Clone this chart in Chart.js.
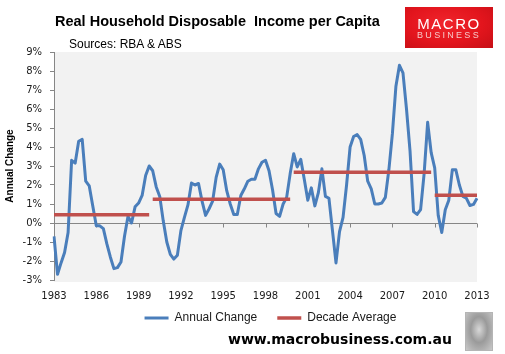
<!DOCTYPE html>
<html>
<head>
<meta charset="utf-8">
<script src="https://cdn.jsdelivr.net/npm/chart.js@4.4.1/dist/chart.umd.min.js"></script>
<style>
  html, body { margin: 0; padding: 0; background: #fff; }
  #wrap { position: relative; width: 505px; height: 354px; overflow: hidden; }
  #chart { position: absolute; left: 0; top: 0; }
  .txt { position: absolute; white-space: nowrap; line-height: 1; color: #000; }
  #title { left: 55px; top: 13px; font: bold 14.5px "Liberation Sans", Arial, sans-serif; }
  #sources { left: 69px; top: 36.5px; font: 12px "Liberation Sans", Arial, sans-serif; }
  #footer { left: 228px; top: 331px; font: bold 14px "DejaVu Sans", Verdana, sans-serif; }
  #logo { position: absolute; left: 405px; top: 7px; width: 88px; height: 41px;
    background: radial-gradient(ellipse at 45% 40%, #f0252c 0%, #e3151d 55%, #c60f16 100%); }
  #logo .macro { position: absolute; left: 0; width: 88px; top: 8.6px; text-align: center;
    font: 15px "Liberation Sans", Arial, sans-serif; letter-spacing: 1.5px; color: #fff; line-height: 1; }
  #logo .biz { position: absolute; left: 0; width: 88px; top: 23.8px; text-align: center;
    font: 9px "Liberation Sans", Arial, sans-serif; letter-spacing: 2.3px; color: #f6c9c9; line-height: 1; }
  #wolf { position: absolute; left: 465px; top: 312px; width: 26px; height: 37px; border: 1px solid #b5b5b5;
    background: radial-gradient(ellipse at 50% 45%, #d8d8d8 0%, #9a9a9a 45%, #c8c8c8 100%); }
</style>
</head>
<body>
<div id="wrap">
  <canvas id="chart" width="505" height="354"></canvas>
  <div class="txt" id="title">Real Household Disposable&nbsp; Income per Capita</div>
  <div class="txt" id="sources">Sources: RBA &amp; ABS</div>
  <div id="logo"><div class="macro">MACRO</div><div class="biz">BUSINESS</div></div>
  <div class="txt" id="footer">www.macrobusiness.com.au</div>
  <div id="wolf"></div>
</div>
<script>
// quarterly categories, 1983 Q1 .. 2013 Q1
const quarterLabels = [];
for (let y = 1983; y <= 2013; y++) {
  for (let q = 1; q <= 4; q++) quarterLabels.push(y + " Q" + q);
}
quarterLabels.length = 121;

const tickYears = [1983, 1986, 1989, 1992, 1995, 1998, 2001, 2004, 2007, 2010, 2013];

// annual change, %
const annualChange = [
  -0.7, -2.7, -2.1, -1.55, -0.5, 3.3, 3.15, 4.3, 4.4, 2.2, 1.95, 0.9,
  -0.15, -0.15, -0.3, -1.1, -1.8, -2.4, -2.35, -2.05, -0.7, 0.35, 0.0, 0.85,
  1.05, 1.45, 2.5, 3.0, 2.75, 1.9, 1.4, 0.1, -1.0, -1.65, -1.9, -1.7,
  -0.4, 0.3, 0.95, 2.1, 2.0, 2.08, 1.15, 0.4, 0.75, 1.15, 2.4, 3.1,
  2.8, 1.7, 1.0, 0.45, 0.45, 1.45, 1.8, 2.2, 2.3, 2.3, 2.85, 3.2,
  3.3, 2.75, 1.75, 0.5, 0.35, 1.0, 1.35, 2.6, 3.65, 2.95, 3.35, 2.3,
  1.2, 1.85, 0.9, 1.6, 2.85, 1.4, 1.3, -0.4, -2.1, -0.45, 0.3, 2.0,
  4.0, 4.55, 4.65, 4.4, 3.55, 2.2, 1.8, 1.0, 1.0, 1.05, 1.35, 2.8,
  4.7, 7.2, 8.3, 7.9, 6.0, 3.8, 0.6, 0.45, 0.7, 2.6, 5.3, 3.7,
  2.9, 0.4, -0.5, 0.7, 1.2, 2.8, 2.8, 2.0, 1.4, 1.3, 0.92, 0.98,
  1.3
];

// decade averages and the quarter each one starts at
const decadeAverage = [0.43, 1.25, 2.67, 1.46];
const decadeStart = ["1983 Q1", "1990 Q1", "2000 Q1", "2010 Q1"];

const startIdx = decadeStart.map(l => quarterLabels.indexOf(l));
const decadeSeries = quarterLabels.map((l, i) => {
  let d = 0;
  startIdx.forEach((s, k) => { if (i >= s) d = k; });
  return decadeAverage[d];
});

const AXIS = "#868686";
const TXT = "#1a1a1a";

const plotArea = {
  id: "plotArea",
  afterLayout(chart) {
    // nudge legend to where Excel puts it
    chart.legend.left += 5;
    chart.legend.right += 5;
  },
  beforeDraw(chart) {
    const { ctx, chartArea: a } = chart;
    ctx.save();
    ctx.fillStyle = "#f2f2f2";
    ctx.fillRect(a.left, a.top, a.right - a.left, a.bottom - a.top + 2);
    ctx.restore();
  },
  beforeDatasetsDraw(chart) {
    // category axis crosses at 0%
    const { ctx, chartArea: a, scales } = chart;
    const y0 = Math.round(scales.y.getPixelForValue(0)) + 0.5;
    ctx.save();
    ctx.strokeStyle = AXIS;
    ctx.lineWidth = 1;
    ctx.beginPath();
    ctx.moveTo(a.left, y0);
    ctx.lineTo(a.right, y0);
    quarterLabels.forEach((l, i) => {
      const [yr, q] = l.split(" ");
      if (q === "Q1" && tickYears.includes(+yr)) {
        const x = Math.round(scales.x.getPixelForValue(i)) + 0.5;
        ctx.moveTo(x, y0);
        ctx.lineTo(x, y0 + 4);
      }
    });
    ctx.stroke();
    ctx.restore();
  }
};

const ctx = document.getElementById("chart").getContext("2d");
new Chart(ctx, {
  type: "line",
  data: {
    labels: quarterLabels,
    datasets: [
      {
        label: "Annual Change",
        data: annualChange,
        borderColor: "#4a7ebb",
        backgroundColor: "#4a7ebb",
        borderWidth: 3,
        borderJoinStyle: "round",
        pointRadius: 0,
        tension: 0,
        order: 1
      },
      {
        label: "Decade Average",
        data: decadeSeries,
        borderColor: "#c0504d",
        backgroundColor: "#c0504d",
        borderWidth: 3.5,
        pointRadius: 0,
        order: 0,
        segment: {
          borderColor: c => (c.p0.parsed.y !== c.p1.parsed.y ? "rgba(0,0,0,0)" : undefined)
        }
      }
    ]
  },
  options: {
    responsive: false,
    animation: false,
    devicePixelRatio: 1,
    layout: { padding: { top: 52, right: 28, bottom: 20, left: 0 } },
    plugins: {
      tooltip: { enabled: false },
      legend: {
        position: "bottom",
        fullSize: false,
        labels: {
          usePointStyle: true,
          pointStyle: "line",
          pointStyleWidth: 24,
          padding: 10,
          color: TXT,
          font: { family: "Liberation Sans", size: 12 },
          sort: (a, b) => a.datasetIndex - b.datasetIndex,
          generateLabels: chart => {
            const items = Chart.defaults.plugins.legend.labels.generateLabels(chart);
            // wider gap between the two entries
            items.forEach(it => { if (it.datasetIndex === 0) it.text += "   "; });
            return items;
          }
        }
      }
    },
    scales: {
      x: {
        type: "category",
        offset: false,
        grid: { display: false, drawTicks: false },
        border: { display: false },
        ticks: {
          autoSkip: false,
          maxRotation: 0,
          minRotation: 0,
          padding: 10,
          color: TXT,
          font: { family: "DejaVu Sans", size: 10 },
          callback: function (v) {
            const [yr, q] = this.getLabelForValue(v).split(" ");
            return q === "Q1" && tickYears.includes(+yr) ? yr : "";
          }
        },
        afterFit: s => { s.height = 22; }
      },
      y: {
        min: -3,
        max: 9,
        ticks: {
          stepSize: 1,
          padding: 8,
          color: TXT,
          font: { family: "DejaVu Sans", size: 10 },
          callback: v => v + "%"
        },
        grid: { drawOnChartArea: false, drawTicks: true, tickLength: 4, color: AXIS },
        border: { display: true, color: AXIS },
        title: {
          display: true,
          text: "Annual Change",
          color: "#000",
          font: { family: "Liberation Sans", size: 10, weight: "bold" },
          padding: { top: 4, bottom: 0 }
        },
        afterFit: s => { s.width = 54; }
      }
    }
  },
  plugins: [plotArea]
});
</script>
</body>
</html>
